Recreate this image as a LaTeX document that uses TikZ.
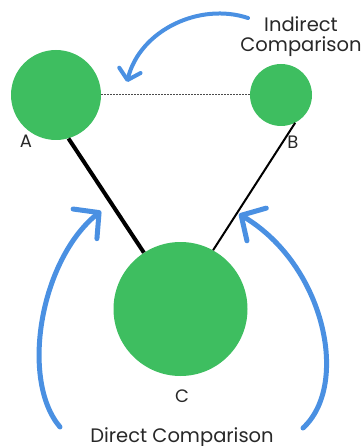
\documentclass[tikz,border=0pt]{standalone}
\usepackage{fontspec}
\setmainfont{Poppins}
\usetikzlibrary{arrows.meta}
\definecolor{dotgreen}{RGB}{62,190,96}
\definecolor{arrowblue}{RGB}{74,144,226}
\definecolor{txtgray}{RGB}{40,40,40}
\begin{document}
\begin{tikzpicture}[x=1pt,y=-1pt,
  dot/.style={circle,fill=dotgreen,draw=none,inner sep=0pt},
  lbl/.style={text=txtgray,font=\fontsize{19.5}{22}\selectfont,anchor=base,inner sep=0pt},
  letter/.style={text=txtgray,font=\fontsize{18}{20}\selectfont,anchor=base,inner sep=0pt},
  bigarrow/.style={draw=arrowblue,line width=5pt,line cap=round,-{Straight Barb[length=18pt,width=38pt,round]}},
  smallarrow/.style={draw=arrowblue,line width=4pt,line cap=round,-{Straight Barb[length=10pt,width=22pt,round]}}]
\useasboundingbox (0,0) rectangle (362,446);
\node[dot,minimum size=90pt] (A) at (56,95) {};
\node[dot,minimum size=62pt] (B) at (281,95) {};
\node[dot,minimum size=134pt] (C) at (180.5,309) {};
\draw[line width=4pt] (A.-74) -- (C.123);
\draw[line width=2pt] (B.-63) -- (C.61);
\draw[black!70,line width=1pt,dash pattern=on 1.5pt off 1.5pt] (A.east) -- (B.west);
\node[letter] (la) at (26,148) {A};
\node[letter] (lb) at (293,149) {B};
\node[letter] (lc) at (182,402) {C};
\node[lbl] (ind1) at (301,32) {Indirect};
\node[lbl] (ind2) at (301,52) {Comparison};
\node[lbl] (dir) at (182,442) {Direct Comparison};
\coordinate (t0) at (248,18);
\coordinate (t1) at (127,82);
\coordinate (l0) at (60,427);
\coordinate (l1) at (101,211);
\coordinate (r0) at (303,428);
\coordinate (r1) at (239,214);
\draw[smallarrow] (t0) .. controls (200,2) and (140,30) .. (t1);
\draw[bigarrow] (l0) .. controls (20,380) and (40,260) .. (l1);
\draw[bigarrow] (r0) .. controls (350,385) and (325,265) .. (r1);
\end{tikzpicture}
\end{document}
